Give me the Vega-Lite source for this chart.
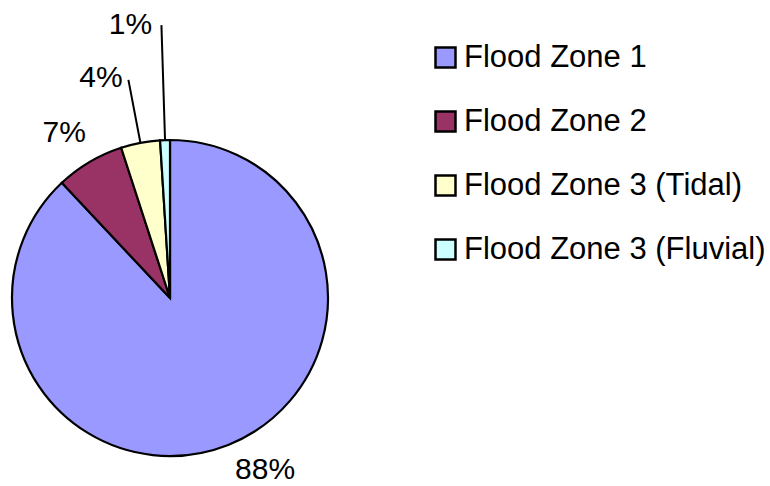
{
  "$schema": "https://vega.github.io/schema/vega-lite/v6.json",
  "width": 340,
  "height": 376,
  "autosize": {"type": "none"},
  "padding": {"left": 0, "top": 110, "right": 430, "bottom": 0},
  "background": "white",
  "config": {"view": {"stroke": null}, "font": "Liberation Sans"},
  "data": {
    "values": [
      {"zone": "Flood Zone 1", "value": 88, "label": "88%"},
      {"zone": "Flood Zone 2", "value": 7, "label": "7%"},
      {"zone": "Flood Zone 3 (Tidal)", "value": 4, "label": "4%"},
      {"zone": "Flood Zone 3 (Fluvial)", "value": 1, "label": "1%"}
    ]
  },
  "encoding": {
    "theta": {"field": "value", "type": "quantitative", "stack": true},
    "order": {"field": "value", "type": "quantitative", "sort": "descending"}
  },
  "layer": [
    {
      "mark": {"type": "arc", "radius": 158, "stroke": "black", "strokeWidth": 2.2},
      "encoding": {
        "color": {
          "field": "zone",
          "type": "nominal",
          "scale": {
            "domain": ["Flood Zone 1", "Flood Zone 2", "Flood Zone 3 (Tidal)", "Flood Zone 3 (Fluvial)"],
            "range": ["#9999FF", "#993366", "#FFFFCC", "#CCFFFF"]
          },
          "legend": {
            "title": null,
            "orient": "none",
            "legendX": 430,
            "legendY": -68,
            "padding": 0,
            "symbolType": "square",
            "symbolSize": 400,
            "symbolStrokeColor": "black",
            "symbolStrokeWidth": 2.5,
            "symbolOpacity": 1,
            "labelFont": "Liberation Sans",
            "labelFontSize": 31,
            "labelColor": "black",
            "labelOffset": 3,
            "labelLimit": 400,
            "rowPadding": 32
          }
        }
      }
    },
    {
      "mark": {"type": "arc", "radius": 222, "radius2": 158, "padAngle": 3, "fillOpacity": 0, "stroke": "black", "strokeWidth": 2},
      "encoding": {
        "detail": {"field": "zone"},
        "opacity": {"condition": {"test": "datum.value == 4", "value": 1}, "value": 0}
      }
    },
    {
      "mark": {"type": "arc", "radius": 273, "radius2": 158, "padAngle": 3, "fillOpacity": 0, "stroke": "black", "strokeWidth": 2},
      "encoding": {
        "detail": {"field": "zone"},
        "opacity": {"condition": {"test": "datum.value == 1", "value": 1}, "value": 0}
      }
    },
    {
      "mark": {"type": "text", "radius": 185, "dx": 27, "fontSize": 30, "font": "Liberation Sans", "color": "black"},
      "encoding": {
        "detail": {"field": "zone"},
        "text": {"field": "label"},
        "opacity": {"condition": {"test": "datum.value == 88", "value": 1}, "value": 0}
      }
    },
    {
      "mark": {"type": "text", "radius": 192, "dx": -8, "fontSize": 30, "font": "Liberation Sans", "color": "black"},
      "encoding": {
        "detail": {"field": "zone"},
        "text": {"field": "label"},
        "opacity": {"condition": {"test": "datum.value == 7", "value": 1}, "value": 0}
      }
    },
    {
      "mark": {"type": "text", "radius": 224, "dx": -27, "fontSize": 30, "font": "Liberation Sans", "color": "black"},
      "encoding": {
        "detail": {"field": "zone"},
        "text": {"field": "label"},
        "opacity": {"condition": {"test": "datum.value == 4", "value": 1}, "value": 0}
      }
    },
    {
      "mark": {"type": "text", "radius": 273, "dx": -31, "fontSize": 30, "font": "Liberation Sans", "color": "black"},
      "encoding": {
        "detail": {"field": "zone"},
        "text": {"field": "label"},
        "opacity": {"condition": {"test": "datum.value == 1", "value": 1}, "value": 0}
      }
    }
  ]
}
